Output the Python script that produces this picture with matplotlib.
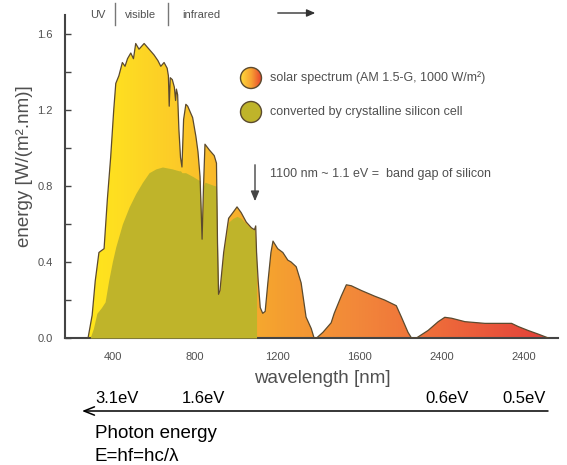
import numpy as np
import matplotlib
matplotlib.use('Agg')
import matplotlib.pyplot as plt
from matplotlib.colors import LinearSegmentedColormap, Normalize
from matplotlib.patches import Circle, FancyArrowPatch

plt.rcParams['font.family'] = ['Liberation Sans', 'DejaVu Sans']

# ---------------- data ----------------
solar_nm = [280, 300, 315, 333, 345, 358, 374, 390, 405, 415, 430, 447, 460, 472,
            488, 501, 512, 528, 553, 577, 601, 620, 634, 650, 665, 671, 675, 680,
            690, 700, 706, 710, 716, 722, 730, 737, 745, 756, 765, 789, 805, 815,
            825, 835, 842, 849, 870, 894, 905, 910, 915, 922, 940, 964, 985, 1005,
            1025, 1050, 1075, 1090, 1096, 1100, 1108, 1118, 1130, 1142, 1155, 1170,
            1180, 1203, 1228, 1252, 1268, 1293, 1317, 1341, 1366, 1380, 1392, 1423,
            1463, 1478, 1512, 1537, 1561, 1610, 1675, 1723, 1780, 1805, 1837, 1854,
            1878, 1935, 1984, 2016, 2049, 2114, 2211, 2341, 2374, 2423, 2472, 2520]
solar_val = [0.0, 0.12, 0.30, 0.45, 0.46, 0.47, 0.73, 0.95, 1.20, 1.34, 1.38, 1.45, 1.43, 1.47,
             1.50, 1.47, 1.55, 1.52, 1.55, 1.52, 1.49, 1.46, 1.43, 1.45, 1.42, 1.38, 1.22, 1.37,
             1.36, 1.32, 1.25, 1.31, 1.28, 1.10, 0.95, 0.90, 1.15, 1.23, 1.22, 1.16, 1.06, 0.98,
             0.85, 0.52, 0.80, 1.02, 0.99, 0.96, 0.92, 0.50, 0.23, 0.25, 0.45, 0.63, 0.66, 0.69,
             0.66, 0.61, 0.58, 0.57, 0.59, 0.45, 0.30, 0.16, 0.13, 0.14, 0.29, 0.45,
             0.51, 0.47, 0.45, 0.41, 0.40, 0.375, 0.29, 0.11, 0.05, 0.0, 0.0, 0.03,
             0.08, 0.13, 0.22, 0.28, 0.275, 0.25, 0.22, 0.20, 0.17, 0.11, 0.03, 0.0,
             0.0, 0.04, 0.086, 0.109, 0.104, 0.086, 0.077, 0.077, 0.06, 0.039, 0.02, 0.0]

conv_nm = [290, 306, 323, 345, 363, 380, 398, 415, 447, 480, 512, 545, 577, 610, 642,
           690, 722, 730, 737, 745, 755, 790, 820, 825, 835, 842, 849, 887, 902, 905,
           910, 915, 922, 940, 964, 985, 1005, 1025, 1050, 1075, 1090, 1100, 1100]
conv_val = [0.0, 0.05, 0.13, 0.16, 0.19, 0.30, 0.40, 0.48, 0.60, 0.69, 0.76, 0.82, 0.87, 0.89, 0.90,
            0.89, 0.88, 0.88, 0.87, 0.87, 0.87, 0.85, 0.83, 0.83, 0.52, 0.80, 0.82, 0.805, 0.80, 0.80,
            0.50, 0.23, 0.25, 0.45, 0.61, 0.63, 0.64, 0.63, 0.60, 0.575, 0.57, 0.45, 0.0]

xtick_pos = [400, 800, 1200, 1600, 2000, 2400]
xtick_labels = ['400', '800', '1200', '1600', '2400', '2400']
ytick_pos = [0.0, 0.4, 0.8, 1.2, 1.6]
ytick_labels = ['0.0', '0.4', '0.8', '1.2', '1.6']
ytick_minor = [0.2, 0.6, 1.0, 1.4]
region_labels = ['UV', 'visible', 'infrared']
ev_labels = ['3.1eV', '1.6eV', '0.6eV', '0.5eV']
legend_labels = ['solar spectrum (AM 1.5-G, 1000 W/m\u00b2)', 'converted by crystalline silicon cell']
bandgap_text = '1100 nm ~ 1.1 eV =  band gap of silicon'

# gradient stops of the solar spectrum fill (wavelength, colour)
grad_nm = [280, 450, 700, 950, 1200, 1600, 2000, 2520]
grad_col = ['#FFE61C', '#FEDC22', '#FCCB28', '#F8B42C', '#F5A030', '#F2873A', '#EE6A3A', '#E2403A']

GRAY = '#505050'
OUTLINE = '#5b4a2e'
OLIVE = '#BFB42A'

W, H = 567, 465
fig = plt.figure(figsize=(W / 100, H / 100), dpi=100)
ax = fig.add_axes([65 / W, (H - 338) / H, (558 - 65) / W, (338 - 15) / H])
xmin, xmax = (65 - 30.5) / 0.2055, (558 - 30.5) / 0.2055

# solar spectrum with horizontal gradient
stops = [((n - xmin) / (xmax - xmin), c) for n, c in zip(grad_nm, grad_col)]
stops = [(0.0, grad_col[0])] + stops + [(1.0, grad_col[-1])]
cmap = LinearSegmentedColormap.from_list('solar', stops)
im = ax.imshow(np.linspace(xmin, xmax, 600)[None, :], extent=[xmin, xmax, 0, 1.7],
               aspect='auto', cmap=cmap, norm=Normalize(xmin, xmax), origin='lower',
               zorder=1, interpolation='bilinear')
poly = ax.fill_between(solar_nm, solar_val, 0, facecolor='none', edgecolor='none')
im.set_clip_path(poly.get_paths()[0], ax.transData)

ax.fill_between(conv_nm, conv_val, 0, color=OLIVE, lw=0, zorder=3)
ax.plot(solar_nm, solar_val, color=OUTLINE, lw=0.9, zorder=4)

ax.set_xlim(xmin, xmax)
ax.set_ylim(0, 1.7)
ax.set_xticks(xtick_pos)
ax.set_xticklabels(xtick_labels)
ax.set_yticks(ytick_pos)
ax.set_yticklabels(ytick_labels)
ax.set_yticks(ytick_minor, minor=True)
ax.tick_params(axis='y', which='both', direction='in', length=4, width=1, color='#444444',
               labelsize=8, labelcolor=GRAY, pad=9)
ax.tick_params(axis='x', which='both', length=0, labelsize=8, labelcolor=GRAY, pad=10)
for s in ['top', 'right']:
    ax.spines[s].set_visible(False)
for s in ['left', 'bottom']:
    ax.spines[s].set_color('#444444')
    ax.spines[s].set_linewidth(1.5)
ax.patch.set_alpha(0)

# ---------------- overlay in pixel coordinates ----------------
ov = fig.add_axes([0, 0, 1, 1], zorder=10)
ov.patch.set_alpha(0)
ov.axis('off')

# region labels at top
for lab, xc in zip(region_labels, [98, 141, 201]):
    ov.text(xc, 15, lab, ha='center', va='center', fontsize=8, color=GRAY)
for xs in [115, 168]:
    ov.plot([xs, xs], [3, 25], color='#777777', lw=1)
ov.add_patch(FancyArrowPatch((275, 13), (318, 13), arrowstyle='-|>,head_length=0.5,head_width=0.22',
                             mutation_scale=10, color='#333333', lw=1))

# legend circles
legcmap = LinearSegmentedColormap.from_list('leg', ['#FFD63A', '#F7A032', '#E8402E'])
im2 = ov.imshow(np.linspace(0, 1, 64)[None, :], extent=[240.5, 261.5, 88.5, 67.5],
                aspect='auto', cmap=legcmap, zorder=2, interpolation='bilinear')
c1 = Circle((251, 78), 10.5, facecolor='none', edgecolor=OUTLINE, lw=1, zorder=3)
ov.add_patch(c1)
im2.set_clip_path(c1)
ov.add_patch(Circle((251, 112), 10.5, facecolor=OLIVE, edgecolor=OUTLINE, lw=1, zorder=3))
ov.text(270, 78, legend_labels[0], ha='left', va='center', fontsize=9, color=GRAY)
ov.text(270, 112, legend_labels[1], ha='left', va='center', fontsize=9, color=GRAY)

# band gap arrow + text
ov.add_patch(FancyArrowPatch((255, 162), (255, 204), arrowstyle='-|>,head_length=0.6,head_width=0.25',
                             mutation_scale=10, color='#444444', lw=1))
ov.text(270, 174, bandgap_text, ha='left', va='center', fontsize=9, color=GRAY)

# axis labels
ov.text(25, 166, 'energy [W/(m\u00b2.nm)]', rotation=90, ha='center', va='center',
        fontsize=13.5, color=GRAY)
ov.text(322, 378, 'wavelength [nm]', ha='center', va='center', fontsize=13.5, color=GRAY)

# photon energy scale
for lab, xl in zip(ev_labels, [95, 182, 425, 502]):
    ov.text(xl, 398, lab, ha='left', va='center', fontsize=12, color='black')
ov.add_patch(FancyArrowPatch((548, 411), (82, 411), arrowstyle='->,head_length=0.75,head_width=0.3',
                             mutation_scale=10, color='black', lw=1.1, shrinkA=0, shrinkB=0))
ov.text(95, 438, 'Photon energy', ha='left', va='baseline', fontsize=13.5, color='black')
ov.text(95, 461, 'E=hf=hc/\u03bb', ha='left', va='baseline', fontsize=13.5, color='black')

ov.set_xlim(0, W)
ov.set_ylim(H, 0)

fig.savefig('out.png', dpi=100)
